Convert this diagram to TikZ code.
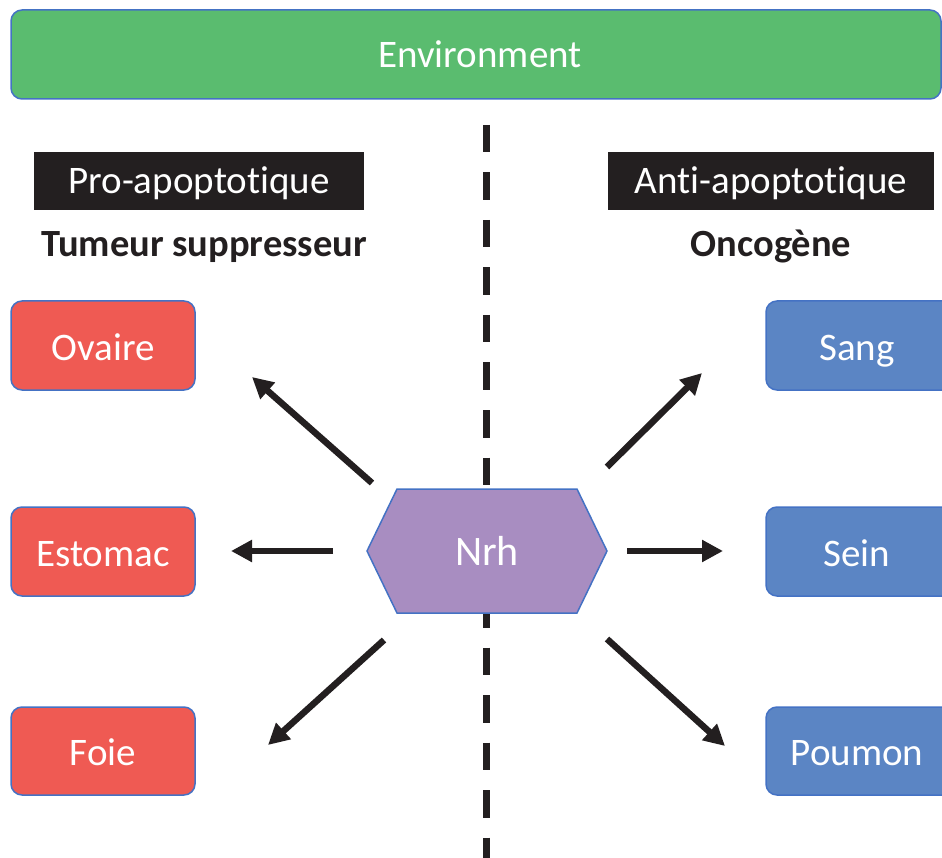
\documentclass[tikz,border=0pt]{standalone}
\usepackage{fontspec}
\setmainfont[Ligatures={NoCommon}]{Carlito}
\usetikzlibrary{arrows.meta}
\definecolor{envgreen}{HTML}{5ABC6F}
\definecolor{boxred}{HTML}{EF5A53}
\definecolor{boxblue}{HTML}{5B85C4}
\definecolor{nrhpurple}{HTML}{A88DC1}
\definecolor{edgeblue}{HTML}{4472C4}
\definecolor{labelblack}{HTML}{231F20}
\newcommand{\tisep}{t\kern0pt i}
\tikzset{
  organ/.style={draw=edgeblue, line width=1.5pt, rounded corners=11pt},
  redbox/.style={organ, fill=boxred},
  bluebox/.style={organ, fill=boxblue},
  wtext/.style={text=white, anchor=base, inner sep=0pt, font=\fontsize{39}{42}\selectfont},
  subtitle/.style={text=labelblack, anchor=base, inner sep=0pt, font=\bfseries\fontsize{38.5}{42}\selectfont},
  arr/.style={line width=6.5pt, draw=labelblack, -{Triangle[length=21pt,width=21pt]}},
  divider/.style={line width=6.5pt, draw=labelblack, dash pattern=on 27.5pt off 20pt}
}
\begin{document}
\begin{tikzpicture}[x=1pt,y=-1pt]
\useasboundingbox (0,0) rectangle (942,858);
% environment
\draw[draw=edgeblue, line width=1.5pt, fill=envgreen, rounded corners=11pt] (11,10) rectangle (941,99);
\node[wtext] (env) at (480,68) {Environment};
% divider
\coordinate (dtop) at (486.5,125);
\coordinate (dbot) at (486.5,870);
\draw[divider] (dtop) -- (dbot);
% labels
\path[fill=labelblack] (34,152) rectangle (364,210);
\node[wtext] (pro) at (199,194) {Pro-apopto\tisep que};
\path[fill=labelblack] (608,152) rectangle (934,210);
\node[wtext] (anti) at (771,194) {An\tisep-apopto\tisep que};
\node[subtitle] (tum) at (204,257) {Tumeur suppresseur};
\node[subtitle] (onc) at (771,257) {Oncogène};
% red boxes
\draw[redbox] (11,301) rectangle (195,390);
\node[wtext] (ovaire) at (103,361) {Ovaire};
\draw[redbox] (11,507) rectangle (195,596);
\node[wtext] (estomac) at (103,566) {Estomac};
\draw[redbox] (11,707) rectangle (195,795);
\node[wtext] (foie) at (103,765) {Foie};
% blue boxes
\draw[bluebox] (766,301) rectangle (960,390);
\node[wtext] (sang) at (857,361) {Sang};
\draw[bluebox] (766,507) rectangle (960,596);
\node[wtext] (sein) at (857,566) {Sein};
\draw[bluebox] (766,707) rectangle (960,795);
\node[wtext] (poumon) at (857,765) {Poumon};
% hexagon
\draw[draw=edgeblue, line width=1.5pt, fill=nrhpurple] (367,551) -- (397,489) -- (577,489) -- (607,551) -- (577,613) -- (397,613) -- cycle;
\node[wtext, font=\fontsize{42}{46}\selectfont] (nrh) at (487,565) {Nrh};
% arrow endpoints
\coordinate (a1s) at (372,483); \coordinate (a1e) at (252,377);
\coordinate (a2s) at (333,551); \coordinate (a2e) at (231,551);
\coordinate (a3s) at (384,640); \coordinate (a3e) at (268,745);
\coordinate (a4s) at (607,467); \coordinate (a4e) at (702,373);
\coordinate (a5s) at (627,551); \coordinate (a5e) at (723,551);
\coordinate (a6s) at (607,639); \coordinate (a6e) at (725,746);
\draw[arr] (a1s) -- (a1e);
\draw[arr] (a2s) -- (a2e);
\draw[arr] (a3s) -- (a3e);
\draw[arr] (a4s) -- (a4e);
\draw[arr] (a5s) -- (a5e);
\draw[arr] (a6s) -- (a6e);
\end{tikzpicture}
\end{document}
